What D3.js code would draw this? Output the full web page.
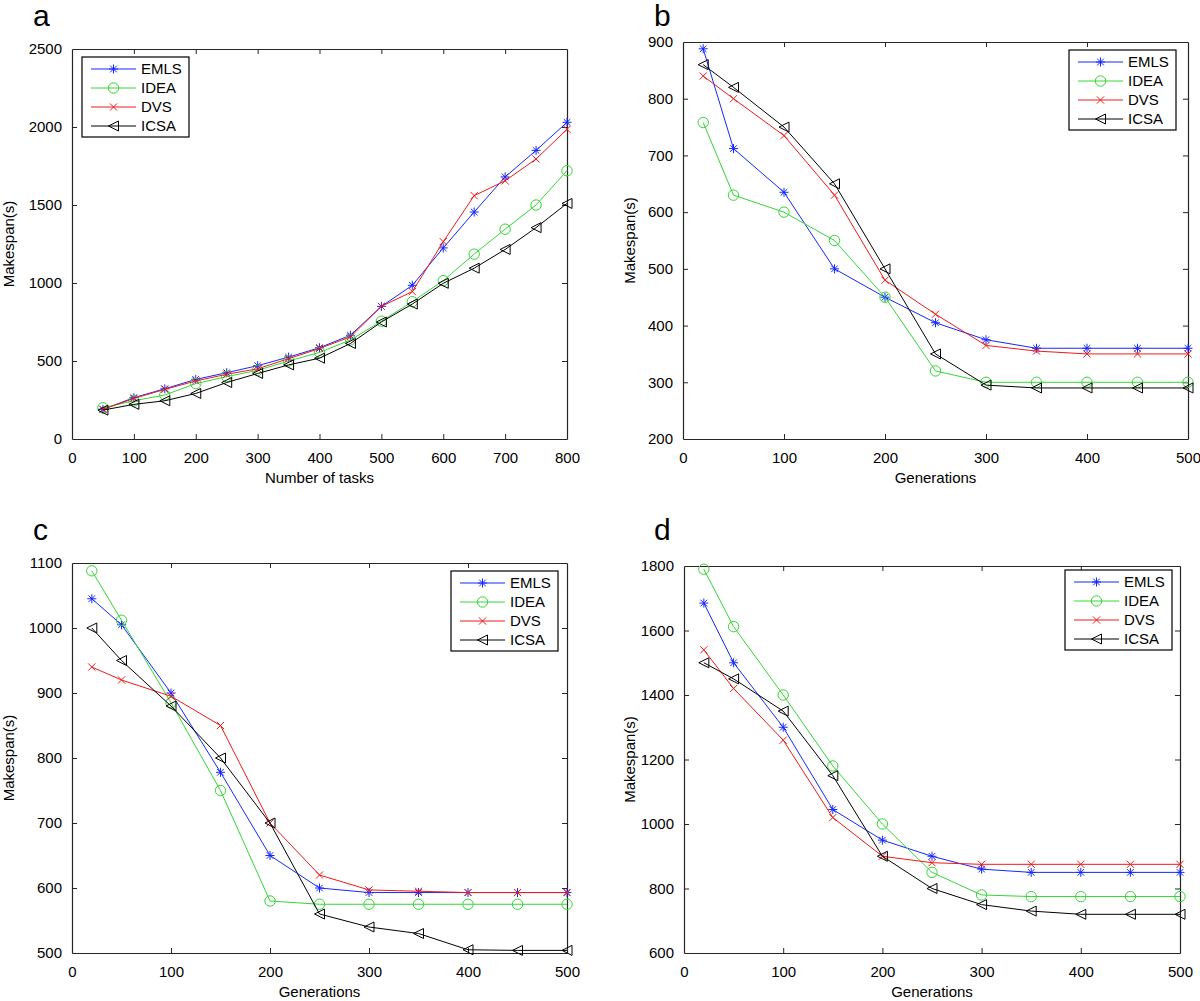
<!DOCTYPE html>
<html>
<head>
<meta charset="utf-8">
<script src="https://cdn.jsdelivr.net/npm/d3@7"></script>
<style>
  html, body { margin: 0; padding: 0; background: #ffffff; }
  svg { display: block; font-family: "Liberation Sans", Arial, Helvetica, sans-serif; }
</style>
</head>
<body>
<svg id="chart" width="1200" height="1001"></svg>
<script>
// ---------------- DATA ----------------
const seriesNames = ["EMLS", "IDEA", "DVS", "ICSA"];

// Panel a: makespan vs number of tasks
const tasksX = [50, 100, 150, 200, 250, 300, 350, 400, 450, 500, 550, 600, 650, 700, 750, 800];
const aEMLS = [190, 265, 322, 382, 425, 470, 525, 585, 665, 850, 985, 1225, 1455, 1680, 1850, 2030];
const aIDEA = [200, 245, 282, 355, 400, 440, 500, 555, 635, 755, 880, 1015, 1185, 1345, 1500, 1720];
const aDVS  = [190, 260, 318, 372, 415, 450, 515, 580, 655, 850, 945, 1265, 1560, 1655, 1795, 1985];
const aICSA = [185, 222, 245, 292, 362, 420, 475, 518, 612, 750, 865, 998, 1095, 1215, 1355, 1510];

// Panels b, c, d: makespan vs generations
const generationsX = [20, 50, 100, 150, 200, 250, 300, 350, 400, 450, 500];

const bEMLS = [888, 712, 635, 500, 450, 405, 375, 360, 360, 360, 360];
const bIDEA = [758, 630, 600, 550, 450, 320, 300, 300, 300, 300, 300];
const bDVS  = [840, 800, 735, 630, 480, 420, 365, 355, 350, 350, 350];
const bICSA = [860, 820, 750, 650, 500, 350, 295, 290, 290, 290, 290];

const cEMLS = [1045, 1005, 900, 778, 650, 600, 593, 593, 593, 593, 593];
const cIDEA = [1088, 1012, 885, 750, 580, 575, 575, 575, 575, 575, 575];
const cDVS  = [940, 920, 895, 850, 700, 620, 597, 595, 593, 593, 593];
const cICSA = [1000, 950, 880, 800, 700, 560, 540, 530, 505, 504, 504];

const dEMLS = [1685, 1500, 1300, 1045, 950, 900, 860, 850, 850, 850, 850];
const dIDEA = [1790, 1612, 1400, 1180, 1000, 850, 780, 775, 775, 775, 775];
const dDVS  = [1540, 1420, 1260, 1020, 900, 880, 875, 875, 875, 875, 875];
const dICSA = [1500, 1450, 1350, 1150, 900, 800, 750, 730, 720, 720, 720];

// Tick values
const aXTicks = [0, 100, 200, 300, 400, 500, 600, 700, 800];
const aYTicks = [0, 500, 1000, 1500, 2000, 2500];
const genXTicks = [0, 100, 200, 300, 400, 500];
const bYTicks = [200, 300, 400, 500, 600, 700, 800, 900];
const cYTicks = [500, 600, 700, 800, 900, 1000, 1100];
const dYTicks = [600, 800, 1000, 1200, 1400, 1600, 1800];

const panelLetters = ["a", "b", "c", "d"];
const xTitles = ["Number of tasks", "Generations", "Generations", "Generations"];
const yTitle = "Makespan(s)";

// ---------------- STYLE / LAYOUT ----------------
const colors = { EMLS: "#1428ff", IDEA: "#34d634", DVS: "#f01a1a", ICSA: "#000000" };
const markers = { EMLS: "asterisk", IDEA: "circle", DVS: "times", ICSA: "triangleLeft" };

const panels = [
  { letter: panelLetters[0], x: tasksX, ys: [aEMLS, aIDEA, aDVS, aICSA],
    xDom: [0, 800], yDom: [0, 2500], xTicks: aXTicks, yTicks: aYTicks,
    rect: { l: 72, r: 567, t: 49, b: 439 }, letterPos: [33, 26], yTitleX: 9,
    legend: { x: 82, y: 57 }, xTitle: xTitles[0] },
  { letter: panelLetters[1], x: generationsX, ys: [bEMLS, bIDEA, bDVS, bICSA],
    xDom: [0, 500], yDom: [200, 900], xTicks: genXTicks, yTicks: bYTicks,
    rect: { l: 683, r: 1188, t: 42, b: 439 }, letterPos: [654, 26], yTitleX: 630,
    legend: { x: 1069, y: 50 }, xTitle: xTitles[1] },
  { letter: panelLetters[2], x: generationsX, ys: [cEMLS, cIDEA, cDVS, cICSA],
    xDom: [0, 500], yDom: [500, 1100], xTicks: genXTicks, yTicks: cYTicks,
    rect: { l: 72, r: 567, t: 563, b: 953 }, letterPos: [33, 540], yTitleX: 9,
    legend: { x: 451, y: 571 }, xTitle: xTitles[2] },
  { letter: panelLetters[3], x: generationsX, ys: [dEMLS, dIDEA, dDVS, dICSA],
    xDom: [0, 500], yDom: [600, 1800], xTicks: genXTicks, yTicks: dYTicks,
    rect: { l: 684, r: 1180, t: 566, b: 953 }, letterPos: [654, 540], yTitleX: 630,
    legend: { x: 1065, y: 570 }, xTitle: xTitles[3] }
];

const svg = d3.select("#chart");
const frameColor = "#262626";
const tickLen = 5;
const fontSize = 15;

function drawMarker(g, type, x, y, color) {
  const s = g.append("g").attr("transform", `translate(${x},${y})`)
    .attr("fill", "none").attr("stroke", color).attr("stroke-width", 1);
  if (type === "asterisk") {
    const h = 4.5, d = 3.3;
    s.append("path").attr("d",
      `M${-h},0L${h},0M0,${-h}L0,${h}M${-d},${-d}L${d},${d}M${-d},${d}L${d},${-d}`);
  } else if (type === "circle") {
    s.append("circle").attr("r", 5.2);
  } else if (type === "times") {
    const d = 3.6;
    s.append("path").attr("d", `M${-d},${-d}L${d},${d}M${-d},${d}L${d},${-d}`);
  } else if (type === "triangleLeft") {
    s.append("path").attr("d", "M-5,0L5,-5L5,5Z");
  }
}

panels.forEach(p => {
  const R = p.rect;
  const x = d3.scaleLinear().domain(p.xDom).range([R.l, R.r]);
  const y = d3.scaleLinear().domain(p.yDom).range([R.b, R.t]);
  const g = svg.append("g");

  // Panel letter
  g.append("text").attr("x", p.letterPos[0]).attr("y", p.letterPos[1])
    .attr("font-size", 30).attr("fill", "#000").text(p.letter);

  // Bottom axis (ticks inside)
  const xAxisB = d3.axisBottom(x).tickValues(p.xTicks).tickSizeInner(-tickLen).tickSizeOuter(0)
    .tickPadding(tickLen + 8).tickFormat(d3.format("d"));
  const gxb = g.append("g").attr("transform", `translate(0,${R.b})`).call(xAxisB);
  const xAxisT = d3.axisTop(x).tickValues(p.xTicks).tickSizeInner(-tickLen).tickSizeOuter(0).tickFormat("");
  const gxt = g.append("g").attr("transform", `translate(0,${R.t})`).call(xAxisT);
  const yAxisL = d3.axisLeft(y).tickValues(p.yTicks).tickSizeInner(-tickLen).tickSizeOuter(0)
    .tickPadding(tickLen + 5).tickFormat(d3.format("d"));
  const gyl = g.append("g").attr("transform", `translate(${R.l},0)`).call(yAxisL);
  const yAxisR = d3.axisRight(y).tickValues(p.yTicks).tickSizeInner(-tickLen).tickSizeOuter(0).tickFormat("");
  const gyr = g.append("g").attr("transform", `translate(${R.r},0)`).call(yAxisR);

  [gxb, gxt, gyl, gyr].forEach(ax => {
    ax.select(".domain").attr("stroke", frameColor).attr("stroke-width", 1.2);
    ax.selectAll(".tick line").attr("stroke", frameColor).attr("stroke-width", 1);
    ax.selectAll(".tick text").attr("font-size", fontSize).attr("fill", "#000")
      .attr("font-family", "'Liberation Sans', Arial, sans-serif");
  });
  // Hide ticks exactly at the ends (MATLAB draws frame there)
  [gxb, gxt].forEach(ax => ax.selectAll(".tick line").filter(d => d === p.xDom[0] || d === p.xDom[1]).remove());
  [gyl, gyr].forEach(ax => ax.selectAll(".tick line").filter(d => d === p.yDom[0] || d === p.yDom[1]).remove());

  // Axis titles
  g.append("text").attr("x", (R.l + R.r) / 2).attr("y", R.b + 44)
    .attr("text-anchor", "middle").attr("font-size", fontSize).attr("fill", "#000").text(p.xTitle);
  g.append("text").attr("transform", `translate(${p.yTitleX + 5},${(R.t + R.b) / 2}) rotate(-90)`)
    .attr("text-anchor", "middle").attr("font-size", fontSize).attr("fill", "#000").text(yTitle);

  // Series lines + markers
  const line = d3.line().x((d, i) => x(p.x[i])).y(d => y(d));
  seriesNames.forEach((name, si) => {
    const vals = p.ys[si];
    g.append("path").datum(vals).attr("d", line)
      .attr("fill", "none").attr("stroke", colors[name]).attr("stroke-width", 1);
    const mg = g.append("g");
    vals.forEach((v, i) => drawMarker(mg, markers[name], x(p.x[i]), y(v), colors[name]));
  });

  // Legend
  const L = p.legend, lw = 107, lh = 80;
  const lg = g.append("g").attr("transform", `translate(${L.x},${L.y})`);
  lg.append("rect").attr("width", lw).attr("height", lh)
    .attr("fill", "#fff").attr("stroke", "#000").attr("stroke-width", 1.2);
  seriesNames.forEach((name, si) => {
    const ry = 12 + si * 19;
    lg.append("line").attr("x1", 9).attr("x2", 54).attr("y1", ry).attr("y2", ry)
      .attr("stroke", colors[name]).attr("stroke-width", 1);
    drawMarker(lg, markers[name], 31.5, ry, colors[name]);
    lg.append("text").attr("x", 59).attr("y", ry).attr("dy", "0.36em")
      .attr("font-size", fontSize).attr("fill", "#000").text(name);
  });
});
</script>
</body>
</html>
